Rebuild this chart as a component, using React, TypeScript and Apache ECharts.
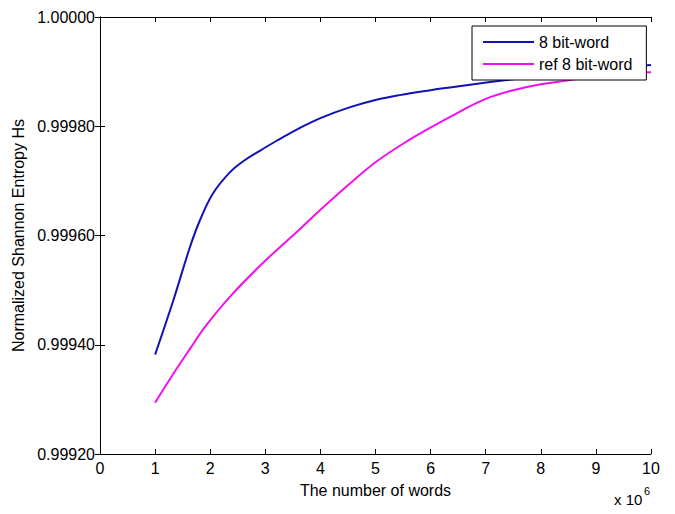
import React, { useEffect, useRef } from "react";
import * as echarts from "echarts";

const blueX = [1.0, 1.33, 1.63, 1.81, 2.05, 2.36, 2.6, 2.9, 3.2, 3.63, 4.0, 4.54, 5.0, 5.44, 6.0, 6.35, 7.08, 7.5, 8.0, 9.0, 10.0];
const blueY = [0.999382, 0.999481, 0.999578, 0.999627, 0.999677, 0.999716, 0.999736, 0.999755, 0.999773, 0.999797, 0.999815, 0.999835, 0.999848, 0.999857, 0.999866, 0.999871, 0.999881, 0.999886, 0.999892, 0.999903, 0.999912];

const magX = [1.0, 1.3, 1.63, 1.91, 2.36, 2.96, 3.63, 4.0, 4.5, 5.0, 5.5, 5.9, 6.5, 7.0, 7.5, 8.0, 8.5, 9.0, 10.0];
const magY = [0.999294, 0.999342, 0.999392, 0.999433, 0.999488, 0.99955, 0.999612, 0.999647, 0.999692, 0.999734, 0.999768, 0.999792, 0.999825, 0.99985, 0.999866, 0.999877, 0.999884, 0.999892, 0.999899];

const seriesNames = ["8 bit-word", "ref 8 bit-word"];
const xTitle = "The number of words";
const yTitle = "Normalized Shannon Entropy Hs";

const FONT = "'Liberation Sans', Arial, sans-serif";

export default function App() {
  const ref = useRef<HTMLDivElement>(null);
  useEffect(() => {
    if (!ref.current) return;
    const chart = echarts.init(ref.current, undefined, { renderer: "svg" });
    const axisLine = { show: true, lineStyle: { color: "#000", width: 1 } };
    const tick = { show: true, inside: true, length: 5, lineStyle: { color: "#000" } };
    chart.setOption({
      animation: false,
      backgroundColor: "#fff",
      textStyle: { fontFamily: FONT },
      grid: { left: 100, top: 17, right: 24, bottom: 60 },
      legend: {
        left: 472,
        top: 26,
        orient: "vertical",
        backgroundColor: "#fff",
        borderColor: "#000",
        borderWidth: 1,
        borderRadius: 0,
        padding: [8, 14, 8, 10],
        itemGap: 6,
        itemWidth: 51,
        itemHeight: 14,
        itemStyle: { opacity: 0 },
        lineStyle: { width: 2 },
        textStyle: { fontSize: 16, color: "#000", fontFamily: FONT },
        data: seriesNames,
      },
      xAxis: [
        {
          type: "value",
          min: 0,
          max: 10,
          interval: 1,
          position: "bottom",
          axisLine,
          axisTick: tick,
          splitLine: { show: false },
          axisLabel: { color: "#000", fontSize: 16, margin: 6, fontFamily: FONT },
          name: xTitle,
          nameLocation: "middle",
          nameGap: 28,
          nameTextStyle: { color: "#000", fontSize: 16, fontFamily: FONT },
        },
        {
          type: "value",
          min: 0,
          max: 10,
          interval: 1,
          position: "top",
          axisLine,
          axisTick: tick,
          splitLine: { show: false },
          axisLabel: { show: false },
        },
      ],
      yAxis: [
        {
          type: "value",
          min: 0.9992,
          max: 1.0,
          interval: 0.0002,
          position: "left",
          axisLine,
          axisTick: tick,
          splitLine: { show: false },
          axisLabel: {
            color: "#000",
            fontSize: 16,
            margin: 5,
            fontFamily: FONT,
            formatter: (v: number) => v.toFixed(5),
          },
          name: yTitle,
          nameLocation: "middle",
          nameGap: 74,
          nameTextStyle: { color: "#000", fontSize: 16, fontFamily: FONT },
        },
        {
          type: "value",
          min: 0.9992,
          max: 1.0,
          interval: 0.0002,
          position: "right",
          axisLine,
          axisTick: tick,
          splitLine: { show: false },
          axisLabel: { show: false },
        },
      ],
      graphic: [
        {
          type: "text",
          left: 614,
          top: 492,
          style: { text: "x 10", fontSize: 15, fill: "#000", fontFamily: FONT },
        },
        {
          type: "text",
          left: 644,
          top: 485,
          style: { text: "6", fontSize: 11, fill: "#000", fontFamily: FONT },
        },
      ],
      series: [
        {
          name: seriesNames[0],
          type: "line",
          xAxisIndex: 0,
          yAxisIndex: 0,
          symbol: "none",
          smooth: 0.4,
          lineStyle: { color: "#1212b4", width: 2 },
          itemStyle: { color: "#1212b4" },
          data: blueX.map((x, i) => [x, blueY[i]]),
        },
        {
          name: seriesNames[1],
          type: "line",
          xAxisIndex: 0,
          yAxisIndex: 0,
          symbol: "none",
          smooth: 0.4,
          lineStyle: { color: "#f010f0", width: 2 },
          itemStyle: { color: "#f010f0" },
          data: magX.map((x, i) => [x, magY[i]]),
        },
      ],
    });
    return () => chart.dispose();
  }, []);
  return (
    <div
      ref={ref}
      style={{ position: "absolute", left: 0, top: 0, width: 675, height: 514, background: "#fff" }}
    />
  );
}
